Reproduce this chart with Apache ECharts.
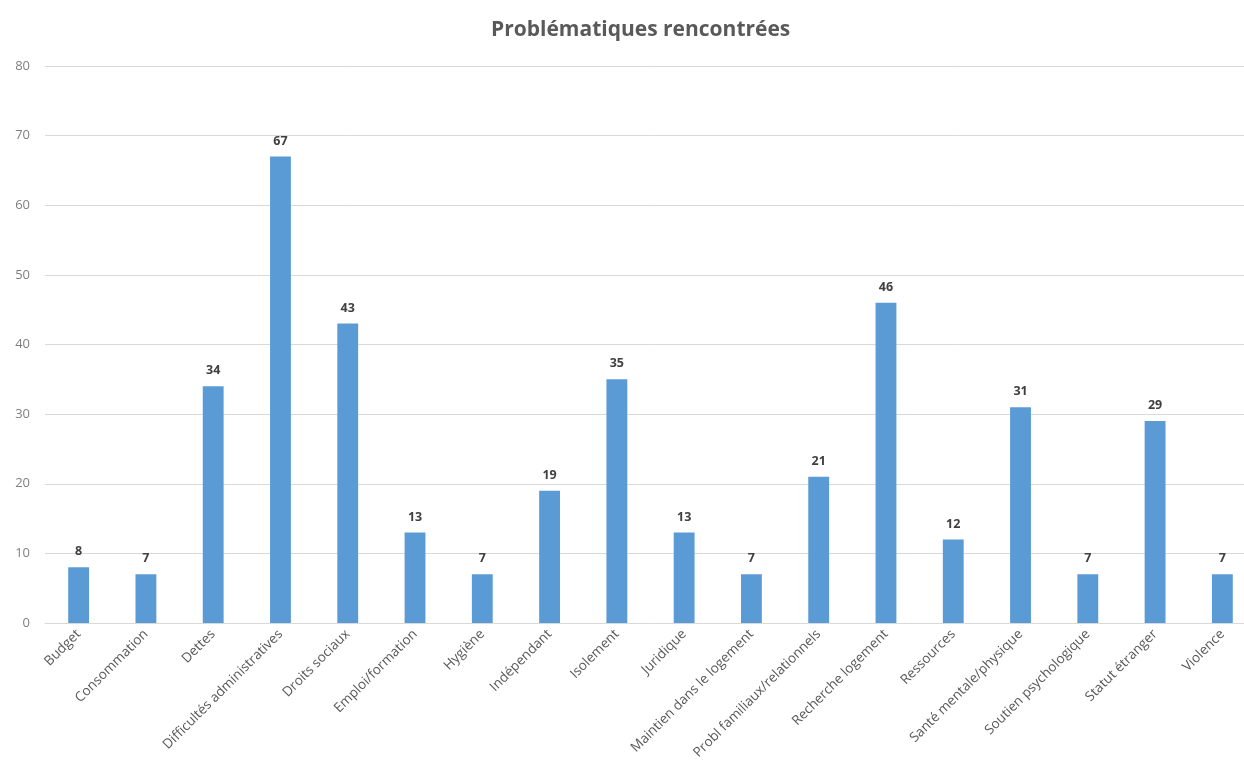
<!DOCTYPE html>
<html><head><meta charset="utf-8">
<script src="https://cdn.jsdelivr.net/npm/echarts@6/dist/echarts.min.js"></script>
<style>html,body{margin:0;padding:0;background:#fff;overflow:hidden;width:1244px;height:776px}#c{width:1256px;height:776px}</style>
</head><body><div id="c"></div>
<script>
const categories = ["Budget","Consommation","Dettes","Difficultés administratives","Droits sociaux","Emploi/formation","Hygiène","Indépendant","Isolement","Juridique","Maintien dans le logement","Probl familiaux/relationnels","Recherche logement","Ressources","Santé mentale/physique","Soutien psychologique","Statut étranger","Violence"];
const values = [8,7,34,67,43,13,7,19,35,13,7,21,46,12,31,7,29,7];
const yMin = 0, yMax = 80, yStep = 10;

const chart = echarts.init(document.getElementById('c'));
chart.setOption({
  backgroundColor: '#ffffff',
  animation: false,
  title: {
    text: 'Problématiques rencontrées',
    left: 486, top: 15,
    textStyle: {fontFamily: 'Open Sans', fontWeight: 'bold', fontSize: 21, color: '#595959'}
  },
  grid: {left: 45, right: 0, top: 66, bottom: 153, containLabel: false},
  xAxis: {
    type: 'category', data: categories,
    axisLine: {lineStyle: {color: '#d9d9d9', width: 1}},
    axisTick: {show: false},
    axisLabel: {rotate: 45, interval: 0, margin: 9, fontFamily: 'Open Sans', fontSize: 13.5, color: '#595959'}
  },
  yAxis: {
    type: 'value', min: yMin, max: yMax, interval: yStep,
    axisLine: {show: false}, axisTick: {show: false},
    axisLabel: {margin: 15, fontFamily: 'Open Sans', fontSize: 13, color: '#7f7f7f'},
    splitLine: {lineStyle: {color: '#d9d9d9', width: 1}}
  },
  series: [{
    type: 'bar', data: values, barWidth: '31%',
    itemStyle: {color: '#5b9bd5'},
    label: {show: true, position: 'top', distance: 9, fontFamily: 'Open Sans', fontWeight: 'bold', fontSize: 12.5, color: '#404040'}
  }]
});
</script></body></html>
